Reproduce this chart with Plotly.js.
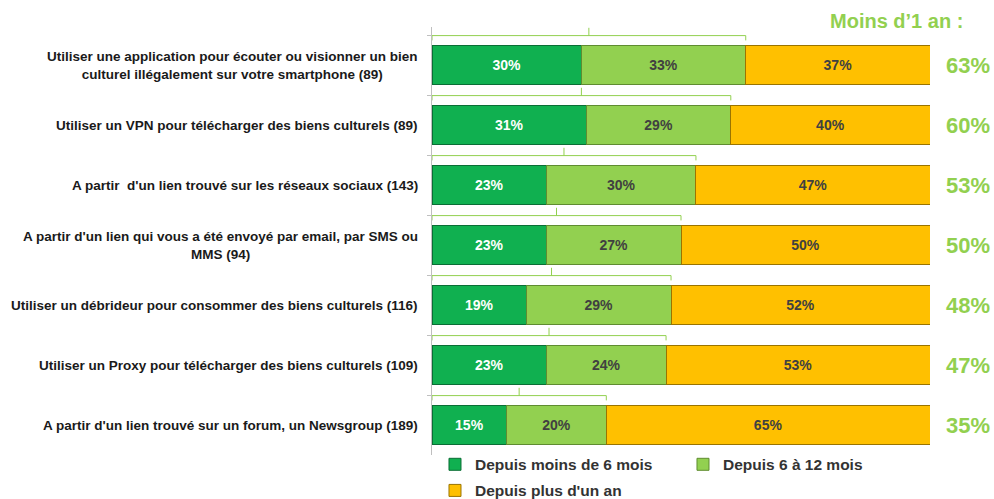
<!DOCTYPE html>
<html>
<head>
<meta charset="utf-8">
<script src="https://cdn.plot.ly/plotly-3.0.1.min.js"></script>
<style>html,body{margin:0;padding:0;background:#fff;}#chart{width:994px;height:499px;}</style>
</head>
<body>
<div id="chart"></div>
<script>
const categories = [
  "Utiliser une application pour écouter ou visionner un bien<br>culturel illégalement sur votre smartphone (89)",
  "Utiliser un VPN pour télécharger des biens culturels (89)",
  "A partir  d'un lien trouvé sur les réseaux sociaux (143)",
  "A partir d'un lien qui vous a été envoyé par email, par SMS ou<br>MMS (94)",
  "Utiliser un débrideur pour consommer des biens culturels (116)",
  "Utiliser un Proxy pour télécharger des biens culturels (109)",
  "A partir d'un lien trouvé sur un forum, un Newsgroup (189)"
];
const seriesNames = ["Depuis moins de 6 mois", "Depuis 6 à 12 mois", "Depuis plus d'un an"];
const lessThan6 = [30, 31, 23, 23, 19, 23, 15];
const from6to12 = [33, 29, 30, 27, 29, 24, 20];
const moreThan1y = [37, 40, 47, 50, 52, 53, 65];
const lessThan1yTotal = [63, 60, 53, 50, 48, 47, 35];
const totalTitle = "Moins d’1 an :";

const FONT = "Liberation Sans, Arial, sans-serif";
const colors = ["#10b050", "#92d050", "#ffc000"];
const edge = ["#0a6e35", "#5f8c30", "#9a7400"];
const txtCol = ["#ffffff", "#404040", "#404040"];
const vals = [lessThan6, from6to12, moreThan1y];
const legendIds = ["legend", "legend", "legend2"];

const traces = vals.map((v, k) => ({
  type: "bar",
  orientation: "h",
  name: seriesNames[k],
  legend: legendIds[k],
  y: categories,
  x: v,
  marker: {color: colors[k], line: {color: edge[k], width: 1}},
  text: v.map(n => n + "%"),
  textposition: "inside",
  insidetextanchor: "middle",
  textfont: {family: FONT, size: 14, color: txtCol[k], weight: "bold"},
  hoverinfo: "skip"
}));

const annotations = [];
const shapes = [];
const bracketColor = "#92d050";
categories.forEach((c, i) => {
  annotations.push({
    xref: "paper", yref: "y", x: -0.024, y: i, xanchor: "right", yanchor: "middle",
    text: c, showarrow: false, align: "center",
    font: {family: FONT, size: 13.5, color: "#1a1a1a", weight: "bold"}
  });
  annotations.push({
    xref: "paper", yref: "y", x: 1.076, y: i, xanchor: "center", yanchor: "middle",
    text: lessThan1yTotal[i] + "%", showarrow: false,
    font: {family: FONT, size: 22, color: "#92d050", weight: "bold"}
  });
  const xe = lessThan6[i] + from6to12[i];
  const yb = i - 0.49, yd = i - 0.41, yu = i - 0.62;
  const ln = {color: bracketColor, width: 1};
  shapes.push({type: "line", xref: "x", yref: "y", x0: 0, x1: xe, y0: yb, y1: yb, line: ln});
  shapes.push({type: "line", xref: "x", yref: "y", x0: 0, x1: 0, y0: yb, y1: yd, line: ln});
  shapes.push({type: "line", xref: "x", yref: "y", x0: xe, x1: xe, y0: yb, y1: yd, line: ln});
  shapes.push({type: "line", xref: "x", yref: "y", x0: xe / 2, x1: xe / 2, y0: yb, y1: yu, line: ln});
});
annotations.push({
  xref: "paper", yref: "paper", x: 0.932, y: 1.015, xanchor: "center", yanchor: "middle",
  text: totalTitle, showarrow: false,
  font: {family: FONT, size: 20, color: "#92d050", weight: "bold"}
});

const legendFont = {family: FONT, size: 15.5, color: "#333333", weight: "bold"};
const layout = {
  width: 994, height: 499,
  margin: {l: 432, r: 64, t: 27, b: 44, autoexpand: false},
  barmode: "stack",
  bargap: 0.35,
  paper_bgcolor: "#ffffff",
  plot_bgcolor: "#ffffff",
  xaxis: {range: [0, 100], visible: false, fixedrange: true},
  yaxis: {
    type: "category", range: [6.5, -0.5 - 8 / 60],
    showticklabels: false, showgrid: false, zeroline: false,
    showline: true, linecolor: "#bfbfbf", linewidth: 1,
    ticks: "outside", ticklen: 4, tickcolor: "#bfbfbf", tickson: "boundaries"
  },
  showlegend: true,
  legend: {
    orientation: "h", x: 0.006, y: 0.017,
    xanchor: "left", yanchor: "top", entrywidth: 203, traceorder: "normal",
    font: legendFont, itemclick: false, itemdoubleclick: false, bgcolor: "rgba(0,0,0,0)"
  },
  legend2: {
    orientation: "h", x: 0.006, y: -0.044,
    xanchor: "left", yanchor: "top", entrywidth: 203,
    font: legendFont, itemclick: false, itemdoubleclick: false, bgcolor: "rgba(0,0,0,0)"
  },
  annotations: annotations,
  shapes: shapes
};

Plotly.newPlot("chart", traces, layout, {displayModeBar: false, staticPlot: true});
</script>
</body>
</html>
